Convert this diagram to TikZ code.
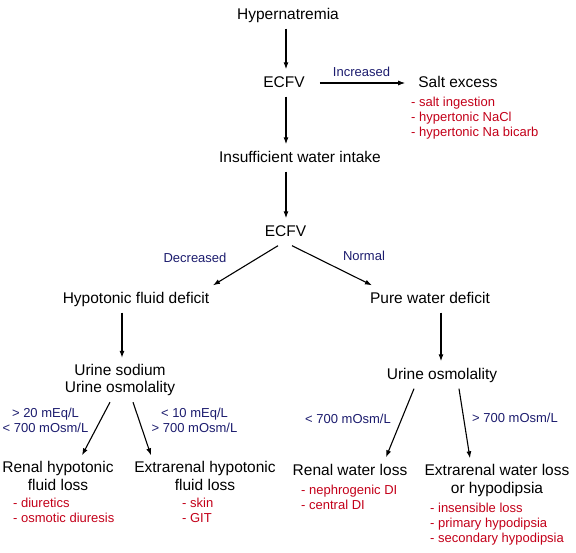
\documentclass[tikz,border=0pt]{standalone}
\usepackage{fontspec}
\setmainfont{Liberation Sans}
\usepackage{xcolor}
\usetikzlibrary{positioning,calc,arrows.meta}

\definecolor{labnavy}{RGB}{28,28,110}
\definecolor{causered}{RGB}{195,0,25}

\tikzset{
    stage/.style={font=\fontsize{15.5}{17.5}\selectfont, inner sep=6pt, align=center},
    one/.style={text height=12pt, text depth=3pt},
    cond/.style={font=\fontsize{13}{15}\selectfont, text=labnavy, inner sep=0pt, align=center},
    causes/.style={font=\fontsize{13}{15}\selectfont, text=causered, inner sep=0pt, align=left, anchor=north west},
    flow/.style={line width=1.1pt, -{Latex[length=7pt,width=5pt]}},
}

\begin{document}
\begin{tikzpicture}[x=1pt, y=-1pt]
        \useasboundingbox (0,0) rectangle (576,552);
        % stages
        \node[stage, one] (hyper)  at (288,15)  {Hypernatremia};
        \node[stage, one] (ecfvA)  at (284,83)  {ECFV};
        \node[stage, one] (salt)   at (458,83)  {Salt excess};
        \node[stage, one] (insuff) at (300,158) {Insufficient water intake};
        \node[stage, one] (ecfvB)  at (285.5,232) {ECFV};
        \node[stage, one] (hypo)   at (136,299) {Hypotonic fluid deficit};
        \node[stage, one] (pure)   at (430,299) {Pure water deficit};
        \node[stage] (urineA) at (120,380) {Urine sodium\\Urine osmolality};
        \node[stage, one] (urineB) at (442,375) {Urine osmolality};
        \node[stage] (renalA) at (58,476)  {Renal hypotonic\\fluid loss};
        \node[stage] (extA)   at (205,476) {Extrarenal hypotonic\\fluid loss};
        \node[stage, one] (renalB) at (350,471) {Renal water loss};
        \node[stage] (extB)   at (497,480.5) {Extrarenal water loss\\or hypodipsia};
        % causes
        \node[causes] (saltlist)   at (411,97.3)  {- salt ingestion\\- hypertonic NaCl\\- hypertonic Na bicarb};
        \node[causes] (renalAlist) at (13,498.3)  {- diuretics\\- osmotic diuresis};
        \node[causes] (extAlist)   at (182,498.3) {- skin\\- GIT};
        \node[causes] (renalBlist) at (301,485.3) {- nephrogenic DI\\- central DI};
        \node[causes] (extBlist)   at (430,503.3) {- insensible loss\\- primary hypodipsia\\- secondary hypodipsia};
        % conditions
        \node[cond] (decr)  at (195,258)     {Decreased};
        \node[cond] (norm)  at (364,256)     {Normal};
        \node[cond] (highNa) at (45.5,420.5) {> 20 mEq/L\\< 700 mOsm/L};
        \node[cond] (lowNa)  at (194.5,420.5) {< 10 mEq/L\\> 700 mOsm/L};
        \node[cond] (lowOsm) at (348,419)    {< 700 mOsm/L};
        \node[cond] (highOsm) at (515,418)   {> 700 mOsm/L};
        % arrows
        \draw[flow] ([xshift=-2pt]hyper.south) -- ([xshift=2pt]ecfvA.north);
        \draw[flow, shorten <=9pt, shorten >=7pt] (ecfvA.east) -- node[cond, above=6pt] (incr) {Increased} (salt.west);
        \draw[flow] ([xshift=2pt]ecfvA.south) -- ([xshift=-14pt]insuff.north);
        \draw[flow] ([xshift=-14pt]insuff.south) -- ([xshift=0.5pt]ecfvB.north);
        \draw[flow] ([xshift=-7.5pt]ecfvB.south) -- ([xshift=77pt]hypo.north);
        \draw[flow] ([xshift=6.5pt]ecfvB.south) -- ([xshift=-58pt]pure.north);
        \draw[flow] ([xshift=-14pt]hypo.south) -- ([xshift=2pt]urineA.north);
        \draw[flow] ([xshift=11pt]pure.south) -- ([xshift=-1pt]urineB.north);
        \draw[flow] ([xshift=-10pt]urineA.south) -- ([xshift=24pt]renalA.north);
        \draw[flow] ([xshift=13pt]urineA.south) -- ([xshift=-54pt]extA.north);
        \draw[flow] ([xshift=-28pt]urineB.south) -- ([xshift=36pt]renalB.north);
        \draw[flow] ([xshift=17pt]urineB.south) -- ([xshift=-27pt]extB.north);
\end{tikzpicture}
\end{document}
